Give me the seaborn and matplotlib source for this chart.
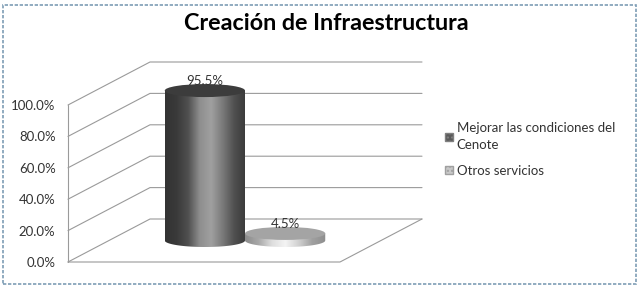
import numpy as np
import pandas as pd
import matplotlib
matplotlib.use("Agg")
import matplotlib.pyplot as plt
import seaborn as sns
from matplotlib.patches import PathPatch, Patch, Ellipse, Rectangle
from matplotlib.path import Path
from matplotlib.colors import LinearSegmentedColormap

# ---- data ----
title = "Creación de Infraestructura"
category = [""]
series = ["Mejorar las condiciones del\nCenote", "Otros servicios"]
values = [95.5, 4.5]
value_labels = ["95.5%", "4.5%"]
yticks = [0, 20, 40, 60, 80, 100]

sns.set_theme(style="white")
plt.rcParams["font.family"] = ["Lato", "DejaVu Sans"]

df = pd.DataFrame({"cat": category * len(series), "serie": series, "valor": values})

fig = plt.figure(figsize=(6.42, 2.89), dpi=100)
W, H = 642, 289
# axes box in pixels: x 68..422, y 63..262
ax = fig.add_axes([68 / W, (H - 262) / H, (422 - 68) / W, (262 - 63) / H])

px_x = 272.0          # pixels per x unit
px_y = 1.57           # pixels per percent
dx = 82 / px_x        # depth offset (x units)
dy = 43 / px_y        # depth offset (percent units)
xl, xr = -0.5, 0.5

sns.barplot(data=df, x="cat", y="valor", hue="serie", hue_order=series,
            width=0.59, dodge=True, legend=False, ax=ax,
            palette=["#4a4a4a", "#b0b0b0"])

# ---- 3D walls / gridlines ----
gcol = "#9a9a9a"
for v in yticks:
    ax.plot([xl, xl + dx, xr + dx], [v, v + dy, v + dy], color=gcol, lw=0.8,
            zorder=0, clip_on=False)
ax.plot([xl, xr, xr + dx], [0, 0, dy], color=gcol, lw=0.8, zorder=0, clip_on=False)
ax.plot([xl, xl], [0, 100], color=gcol, lw=0.8, zorder=0, clip_on=False)

# ---- cylinders ----
grads = [
    ["#333333", "#3a3a3a", "#505050", "#8e8e8e", "#a0a0a0", "#7a7a7a", "#505050", "#3a3a3a"],
    ["#8c8c8c", "#a8a8a8", "#dedede", "#f4f4f4", "#d0d0d0", "#a0a0a0", "#8e8e8e"],
]
tops = ["#3c3c3c", "#a4a4a4"]
eh = 13 / px_y  # ellipse height in percent units

for i, cont in enumerate(ax.containers):
    for bar in cont:
        x0 = bar.get_x() + dx / 2
        w = bar.get_width()
        h = bar.get_height()
        y0 = dy / 2
        bar.set_visible(False)
        t = np.linspace(np.pi, 2 * np.pi, 60)
        cx = x0 + w / 2
        arc = np.column_stack([cx + w / 2 * np.cos(t), y0 + eh / 2 * np.sin(t)])
        verts = np.vstack([[x0, y0 + h], arc, [x0 + w, y0 + h], [x0, y0 + h]])
        body = PathPatch(Path(verts), facecolor="none", edgecolor="none")
        ax.add_patch(body)
        cmap = LinearSegmentedColormap.from_list("g%d" % i, grads[i])
        img = ax.imshow(np.linspace(0, 1, 200).reshape(1, -1), cmap=cmap,
                        extent=(x0, x0 + w, y0 - eh / 2, y0 + h), aspect="auto",
                        zorder=2, interpolation="bilinear")
        img.set_clip_path(body)
        ax.add_patch(Ellipse((cx, y0 + h), w, eh, facecolor=tops[i],
                             edgecolor="none", zorder=3))
        ax.text(cx, y0 + h + eh / 2 - 2, value_labels[i], ha="center", va="bottom",
                fontsize=9.5, color="#333333", zorder=4)

ax.set_xlim(xl, xl + 354 / px_x)
ax.set_ylim(0, 199 / px_y)
ax.set_yticks(yticks)
ax.set_yticklabels(["%.1f%%" % v for v in yticks], fontsize=9.5, color="#333333")
ax.set_xticks([])
ax.set_xlabel("")
ax.set_ylabel("")
ax.tick_params(axis="y", length=0, pad=9)
for s in ax.spines.values():
    s.set_visible(False)
ax.patch.set_alpha(0)

fig.text(326 / W, 1 - 23 / H, title, ha="center", va="center",
         fontsize=16.8, fontweight="bold", color="#000000")

handles = [Patch(facecolor="#5a5a5a", edgecolor="#808080", hatch="...."),
           Patch(facecolor="#c8c8c8", edgecolor="#a0a0a0", hatch="....")]
leg = fig.legend(handles, series, loc="upper left", bbox_to_anchor=(433 / W, 1 - 110 / H),
                 frameon=False, fontsize=9.5, handlelength=0.6, handleheight=0.6,
                 handletextpad=0.3, labelspacing=1.0, labelcolor="#333333")
for txt in leg.get_texts():
    txt.set_linespacing(1.55)

fig.add_artist(Rectangle((3 / W, 5 / H), 633 / W, 279 / H, transform=fig.transFigure,
                         fill=False, edgecolor="#7e9db5", lw=1.2, linestyle=(0, (2, 1))))

fig.savefig("out.png", dpi=100)
